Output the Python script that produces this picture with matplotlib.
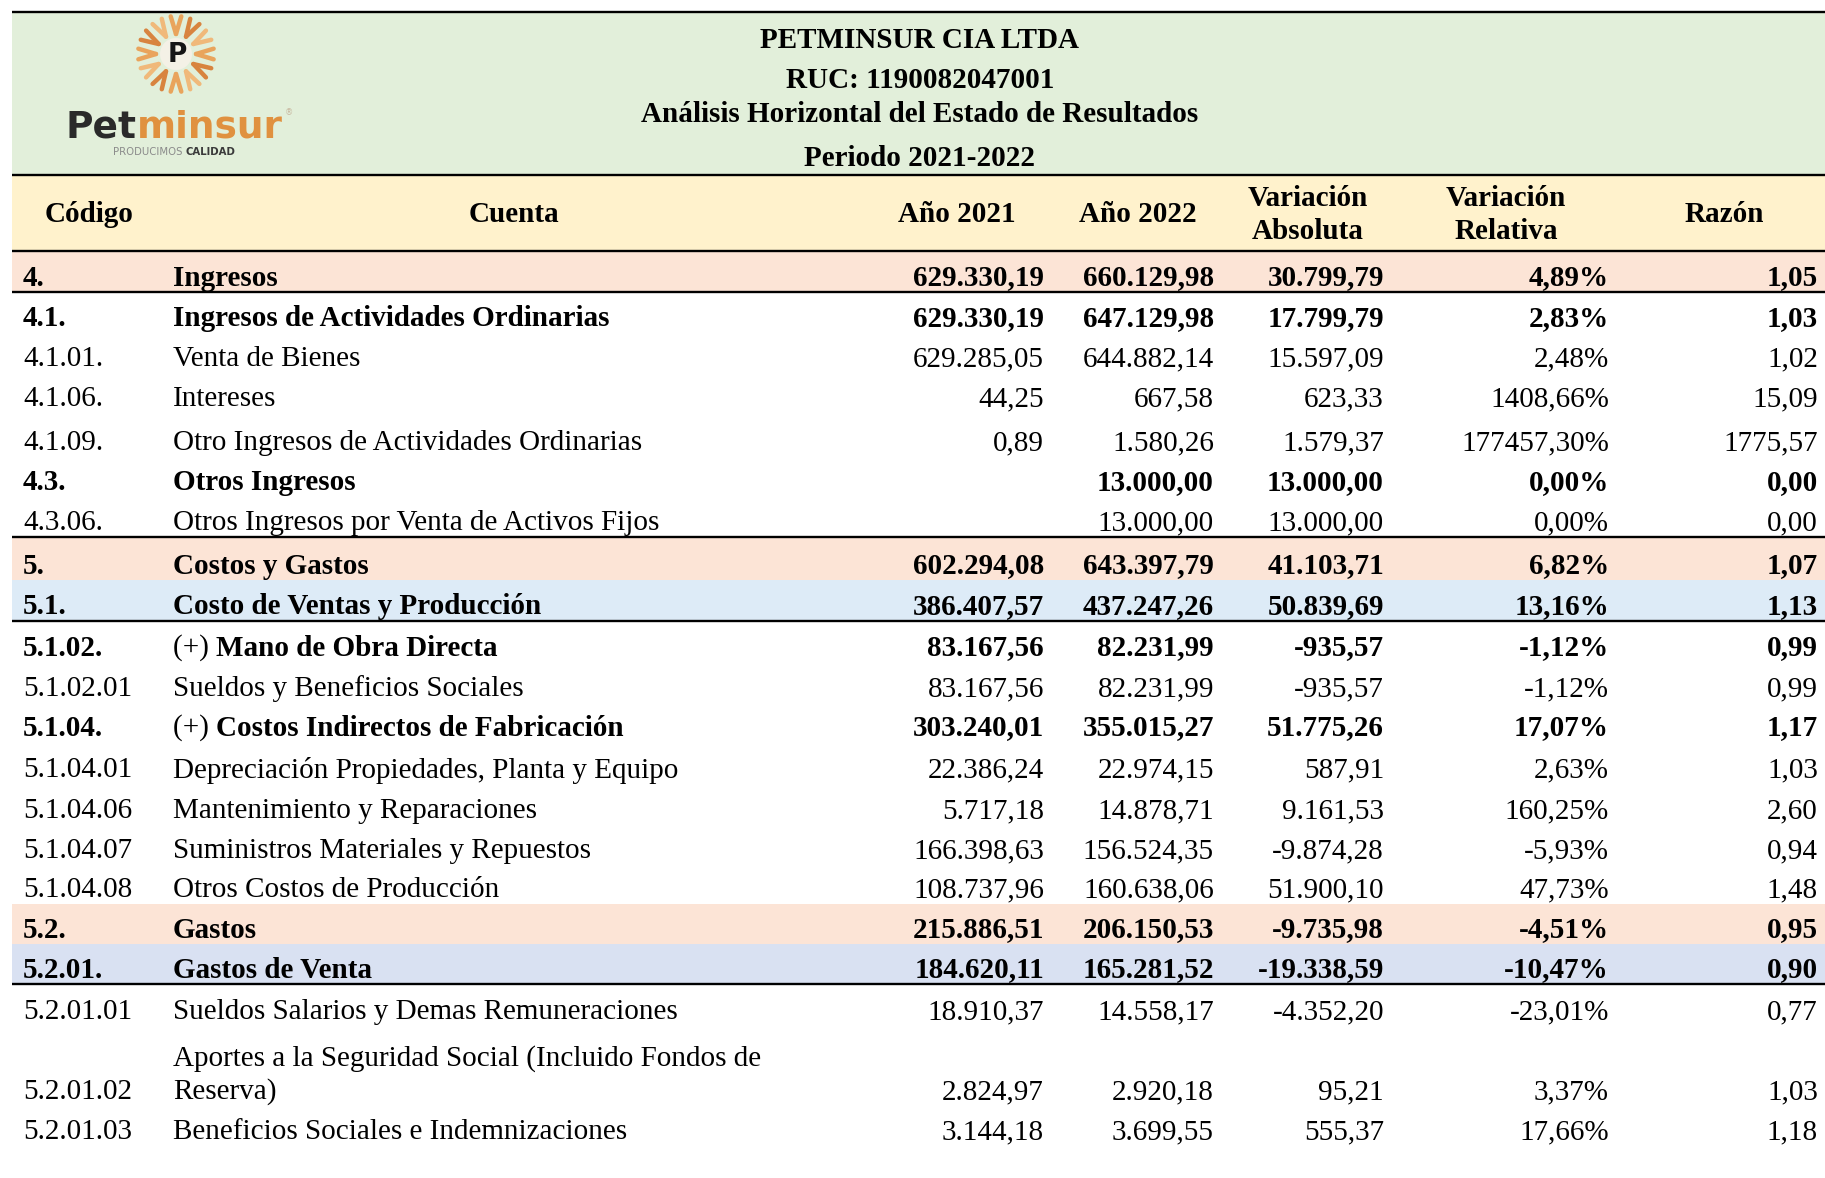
import numpy as np
import matplotlib
matplotlib.use("Agg")
import matplotlib.pyplot as plt
from matplotlib.patches import Rectangle, Circle

# table content
codes = ["4.", "4.1.", "4.1.01.", "4.1.06.", "4.1.09.", "4.3.", "4.3.06.",
         "5.", "5.1.", "5.1.02.", "5.1.02.01", "5.1.04.", "5.1.04.01", "5.1.04.06",
         "5.1.04.07", "5.1.04.08", "5.2.", "5.2.01.", "5.2.01.01", "5.2.01.02", "5.2.01.03"]
accounts = ["Ingresos", "Ingresos de Actividades Ordinarias", "Venta de Bienes", "Intereses",
            "Otro Ingresos de Actividades Ordinarias", "Otros Ingresos",
            "Otros Ingresos por Venta de Activos Fijos", "Costos y Gastos",
            "Costo de Ventas y Producción", "(+) Mano de Obra Directa",
            "Sueldos y Beneficios Sociales", "(+) Costos Indirectos de Fabricación",
            "Depreciación Propiedades, Planta y Equipo", "Mantenimiento y Reparaciones",
            "Suministros Materiales y Repuestos", "Otros Costos de Producción", "Gastos",
            "Gastos de Venta", "Sueldos Salarios y Demas Remuneraciones",
            "Aportes a la Seguridad Social (Incluido Fondos de\nReserva)",
            "Beneficios Sociales e Indemnizaciones"]
y2021 = [629330.19, 629330.19, 629285.05, 44.25, 0.89, None, None, 602294.08, 386407.57,
         83167.56, 83167.56, 303240.01, 22386.24, 5717.18, 166398.63, 108737.96,
         215886.51, 184620.11, 18910.37, 2824.97, 3144.18]
y2022 = [660129.98, 647129.98, 644882.14, 667.58, 1580.26, 13000.00, 13000.00, 643397.79,
         437247.26, 82231.99, 82231.99, 355015.27, 22974.15, 14878.71, 156524.35,
         160638.06, 206150.53, 165281.52, 14558.17, 2920.18, 3699.55]
var_abs = [30799.79, 17799.79, 15597.09, 623.33, 1579.37, 13000.00, 13000.00, 41103.71,
           50839.69, -935.57, -935.57, 51775.26, 587.91, 9161.53, -9874.28, 51900.10,
           -9735.98, -19338.59, -4352.20, 95.21, 555.37]
var_rel = [4.89, 2.83, 2.48, 1408.66, 177457.30, 0.00, 0.00, 6.82, 13.16, -1.12, -1.12,
           17.07, 2.63, 160.25, -5.93, 47.73, -4.51, -10.47, -23.01, 3.37, 17.66]
razon = [1.05, 1.03, 1.02, 15.09, 1775.57, 0.00, 0.00, 1.07, 1.13, 0.99, 0.99, 1.17,
         1.03, 2.60, 0.94, 1.48, 0.95, 0.90, 0.77, 1.03, 1.18]
bold = [True, True, False, False, False, True, False, True, True, True, False, True,
        False, False, False, False, True, True, False, False, False]

title_lines = ["PETMINSUR CIA LTDA", "RUC: 1190082047001",
               "Análisis Horizontal del Estado de Resultados", "Periodo 2021-2022"]
headers = ["Código", "Cuenta", "Año 2021", "Año 2022", "Variación\nAbsoluta",
           "Variación\nRelativa", "Razón"]

# layout
row_h = [40, 41, 40, 40, 44, 40, 40, 43, 41, 41, 41, 39, 42, 41, 40, 39, 40, 40, 42, 80, 40]
fills = {0: "#FCE4D6", 7: "#FCE4D6", 16: "#FCE4D6", 8: "#DDEBF7", 17: "#D9E1F2"}
thick_after = [0, 6, 8, 17]
num_right = [1044, 1214, 1384, 1609, 1818]
header_x = [89, 514, 957, 1138, 1308, 1506, 1724]
title_y = [41, 81, 114, 159]
W, H = 1825, 1178
FS = 21
FONT = "Liberation Serif"


def fmt_num(v):
    if v is None:
        return ""
    s = f"{v:,.2f}"
    return s.replace(",", "X").replace(".", ",").replace("X", ".")


def fmt_plain(v):
    return f"{v:.2f}".replace(".", ",")


fig = plt.figure(figsize=(W / 100, H / 100), dpi=100)
ax = fig.add_axes([0, 0, 1, 1])
ax.set_xlim(0, W)
ax.set_ylim(H, 0)
ax.axis("off")
renderer = fig.canvas.get_renderer()

# header bands
ax.add_patch(Rectangle((12, 12), W - 12, 163, color="#E2EFDA", lw=0))
ax.add_patch(Rectangle((12, 175), W - 12, 76, color="#FFF2CC", lw=0))

for ty, t in zip(title_y, title_lines):
    ax.text(920, ty, t, ha="center", va="center", fontsize=FS, fontweight="bold", family=FONT)

for x, h in zip(header_x, headers):
    ax.text(x, 215, h, ha="center", va="center", fontsize=FS, fontweight="bold",
            family=FONT, linespacing=1.3)

# logo
cx, cy = 176, 54
for k, a in enumerate(np.linspace(0, 2 * np.pi, 12, endpoint=False)):
    col = ["#E9A45C", "#D8843F", "#F0B97A"][k % 3]
    for d in (-0.14, 0.14):
        r0, r1 = 20, 38
        ax.plot([cx + r0 * np.cos(a), cx + r1 * np.cos(a + d)],
                [cy + r0 * np.sin(a), cy + r1 * np.sin(a + d)],
                color=col, lw=3.2, solid_capstyle="round")
ax.add_patch(Circle((cx, cy), 16, color="#F4F1E6", lw=0, zorder=3))
ax.text(cx + 1, cy + 1, "P", ha="center", va="center", fontsize=19, fontweight="bold",
        family="DejaVu Sans", color="#151515", zorder=4)
t1 = ax.text(66, 128, "Pet", ha="left", va="center", fontsize=27, fontweight="bold",
             family="DejaVu Sans", color="#2A2A2A")
w1 = t1.get_window_extent(renderer).width
t1b = ax.text(66 + w1, 128, "minsur", ha="left", va="center", fontsize=27, fontweight="bold",
              family="DejaVu Sans", color="#E0913F")
w1b = t1b.get_window_extent(renderer).width
ax.text(66 + w1 + w1b + 2, 113, "®", ha="left", va="center", fontsize=6, color="#C8B8A0")
t2 = ax.text(113, 152, "PRODUCIMOS ", ha="left", va="center", fontsize=7.3,
             family="DejaVu Sans", color="#8A8A8A")
w2 = t2.get_window_extent(renderer).width
ax.text(113 + w2, 152, "CALIDAD", ha="left", va="center", fontsize=7.3,
        fontweight="bold", family="DejaVu Sans", color="#3A3A3A")

# rows
top = 252
bottoms = []
for i in range(len(codes)):
    bot = top + row_h[i]
    bottoms.append(bot)
    if i in fills:
        ax.add_patch(Rectangle((12, top), W - 12, row_h[i], color=fills[i], lw=0))
    ty = bot - 14
    wt = "bold" if bold[i] else "normal"
    ax.text(23, ty, codes[i], ha="left", va="center", fontsize=FS, fontweight=wt, family=FONT)
    acc = accounts[i]
    if acc.startswith("(+) "):
        tp = ax.text(173, ty, "(+) ", ha="left", va="center", fontsize=FS, family=FONT)
        wp = tp.get_window_extent(renderer).width
        ax.text(173 + wp, ty, acc[4:], ha="left", va="center", fontsize=FS,
                fontweight=wt, family=FONT)
    elif "\n" in acc:
        l1, l2 = acc.split("\n")
        ax.text(173, ty - 33, l1, ha="left", va="center", fontsize=FS, fontweight=wt, family=FONT)
        ax.text(173, ty, l2, ha="left", va="center", fontsize=FS, fontweight=wt, family=FONT)
    else:
        ax.text(173, ty, acc, ha="left", va="center", fontsize=FS, fontweight=wt, family=FONT)
    vals = [fmt_num(y2021[i]), fmt_num(y2022[i]), fmt_num(var_abs[i]),
            fmt_plain(var_rel[i]) + "%", fmt_plain(razon[i])]
    for x, v in zip(num_right, vals):
        ax.text(x, ty, v, ha="right", va="center", fontsize=FS, fontweight=wt, family=FONT)
    top = bot

# rules
for y in [12, 175, 251] + [bottoms[i] for i in thick_after]:
    ax.plot([12, W], [y, y], color="black", lw=1.7, solid_capstyle="butt")

fig.savefig("out.png", dpi=100)
